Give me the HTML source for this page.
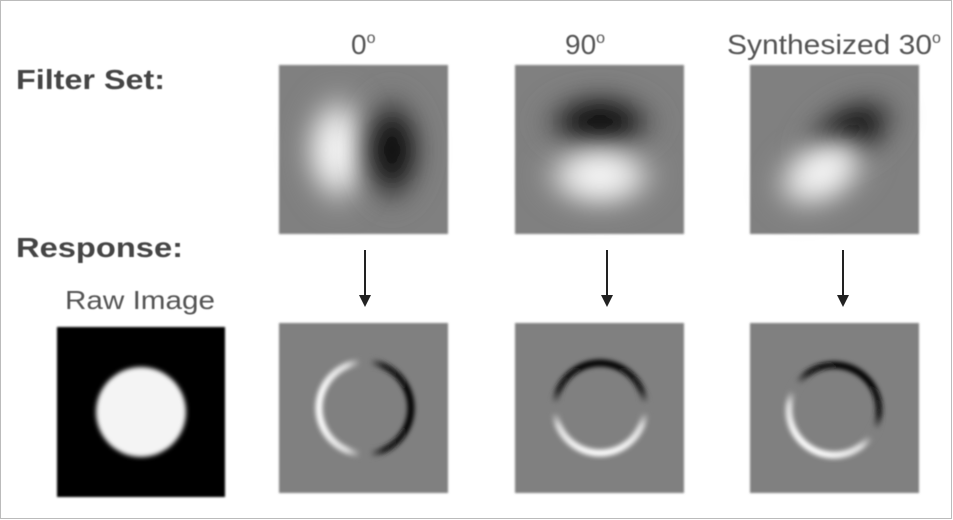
<!DOCTYPE html>
<html><head><meta charset="utf-8"><style>
html,body{margin:0;padding:0;background:#fff}
svg{display:block}
text{font-family:"Liberation Sans",Arial,sans-serif}
</style></head><body>
<svg width="953" height="520" viewBox="0 0 953 520">
<defs>
<filter id="b2" x="-20%" y="-20%" width="140%" height="140%"><feGaussianBlur stdDeviation="2.5"/></filter>
<filter id="b1"><feGaussianBlur stdDeviation="1"/></filter>
<filter id="b8" x="-60%" y="-60%" width="220%" height="220%"><feGaussianBlur stdDeviation="10"/></filter>
<filter id="tb"><feGaussianBlur stdDeviation="0.6"/></filter>
<radialGradient id="gw"><stop offset="0" stop-color="#fff"/><stop offset="0.45" stop-color="#e8e8e8" stop-opacity="0.9"/><stop offset="1" stop-color="#808080" stop-opacity="0"/></radialGradient>
<radialGradient id="gb"><stop offset="0" stop-color="#000"/><stop offset="0.45" stop-color="#181818" stop-opacity="0.9"/><stop offset="1" stop-color="#808080" stop-opacity="0"/></radialGradient>
<linearGradient id="r0" x1="0" y1="0" x2="1" y2="0"><stop offset="0" stop-color="#fff"/><stop offset="0.3" stop-color="#ddd"/><stop offset="0.45" stop-color="#808080"/><stop offset="0.55" stop-color="#808080"/><stop offset="0.7" stop-color="#222"/><stop offset="1" stop-color="#000"/></linearGradient>
<linearGradient id="r90" x1="0" y1="1" x2="0" y2="0"><stop offset="0" stop-color="#fff"/><stop offset="0.3" stop-color="#ddd"/><stop offset="0.45" stop-color="#808080"/><stop offset="0.55" stop-color="#808080"/><stop offset="0.7" stop-color="#222"/><stop offset="1" stop-color="#000"/></linearGradient>
<linearGradient id="r30" x1="0.25" y1="0.93" x2="0.75" y2="0.07"><stop offset="0" stop-color="#fff"/><stop offset="0.3" stop-color="#ddd"/><stop offset="0.45" stop-color="#808080"/><stop offset="0.55" stop-color="#808080"/><stop offset="0.7" stop-color="#222"/><stop offset="1" stop-color="#000"/></linearGradient>
</defs>
<rect x="0.5" y="0.5" width="951" height="518" fill="none" stroke="#bbb"/>

<g filter="url(#tb)">
<text x="16" y="89" font-size="28" font-weight="bold" fill="#444" textLength="149" lengthAdjust="spacingAndGlyphs">Filter Set:</text>
<text x="16" y="257" font-size="28" font-weight="bold" fill="#444" textLength="167" lengthAdjust="spacingAndGlyphs">Response:</text>
<text x="65" y="309" font-size="26" fill="#555" textLength="150" lengthAdjust="spacingAndGlyphs">Raw Image</text>

<text x="351" y="54" font-size="28" fill="#555">0<tspan font-size="16" dy="-11">o</tspan></text>
<text x="565" y="54" font-size="28" fill="#555">90<tspan font-size="16" dy="-11">o</tspan></text>
<text x="727" y="54" font-size="28" fill="#555"><tspan textLength="205" lengthAdjust="spacingAndGlyphs">Synthesized 30</tspan><tspan font-size="16" dy="-11">o</tspan></text>
</g>

<g>
<rect x="279" y="65" width="169" height="169" fill="#808080" filter="url(#b1)"/>
<ellipse cx="338" cy="150" rx="46" ry="72" fill="url(#gw)" filter="url(#b8)"/>
<ellipse cx="392" cy="150" rx="42" ry="68" fill="url(#gb)" filter="url(#b8)"/>
</g>
<g>
<rect x="515" y="65" width="169" height="169" fill="#808080" filter="url(#b1)"/>
<ellipse cx="600" cy="122" rx="70" ry="40" fill="url(#gb)" filter="url(#b8)"/>
<ellipse cx="600" cy="176" rx="72" ry="44" fill="url(#gw)" filter="url(#b8)"/>
</g>
<g>
<rect x="750" y="65" width="169" height="169" fill="#808080" filter="url(#b1)"/>
<ellipse cx="850" cy="132" rx="64" ry="40" transform="rotate(-30 850 132)" fill="url(#gb)" filter="url(#b8)"/>
<ellipse cx="822" cy="172" rx="66" ry="44" transform="rotate(-30 822 172)" fill="url(#gw)" filter="url(#b8)"/>
</g>

<g stroke="#222" stroke-width="2" fill="#222">
<line x1="365" y1="250" x2="365" y2="298"/><path d="M359,295 L371,295 L365,307 Z" stroke="none"/>
<line x1="607" y1="250" x2="607" y2="298"/><path d="M601,295 L613,295 L607,307 Z" stroke="none"/>
<line x1="843" y1="250" x2="843" y2="298"/><path d="M837,295 L849,295 L843,307 Z" stroke="none"/>
</g>

<g>
<rect x="57" y="327" width="168" height="170" fill="#000" filter="url(#b1)"/>
<circle cx="141" cy="412" r="45" fill="#f4f4f4" filter="url(#b2)"/>
</g>

<g>
<rect x="279" y="323" width="169" height="170" fill="#808080" filter="url(#b1)"/>
<circle cx="365" cy="408" r="46" fill="none" stroke="url(#r0)" stroke-width="7" filter="url(#b2)"/>
</g>
<g>
<rect x="515" y="323" width="169" height="170" fill="#808080" filter="url(#b1)"/>
<circle cx="600" cy="408" r="45" fill="none" stroke="url(#r90)" stroke-width="7" filter="url(#b2)"/>
</g>
<g>
<rect x="750" y="323" width="169" height="170" fill="#808080" filter="url(#b1)"/>
<circle cx="834" cy="410" r="45" fill="none" stroke="url(#r30)" stroke-width="7" filter="url(#b2)"/>
</g>
</svg>
</body></html>
